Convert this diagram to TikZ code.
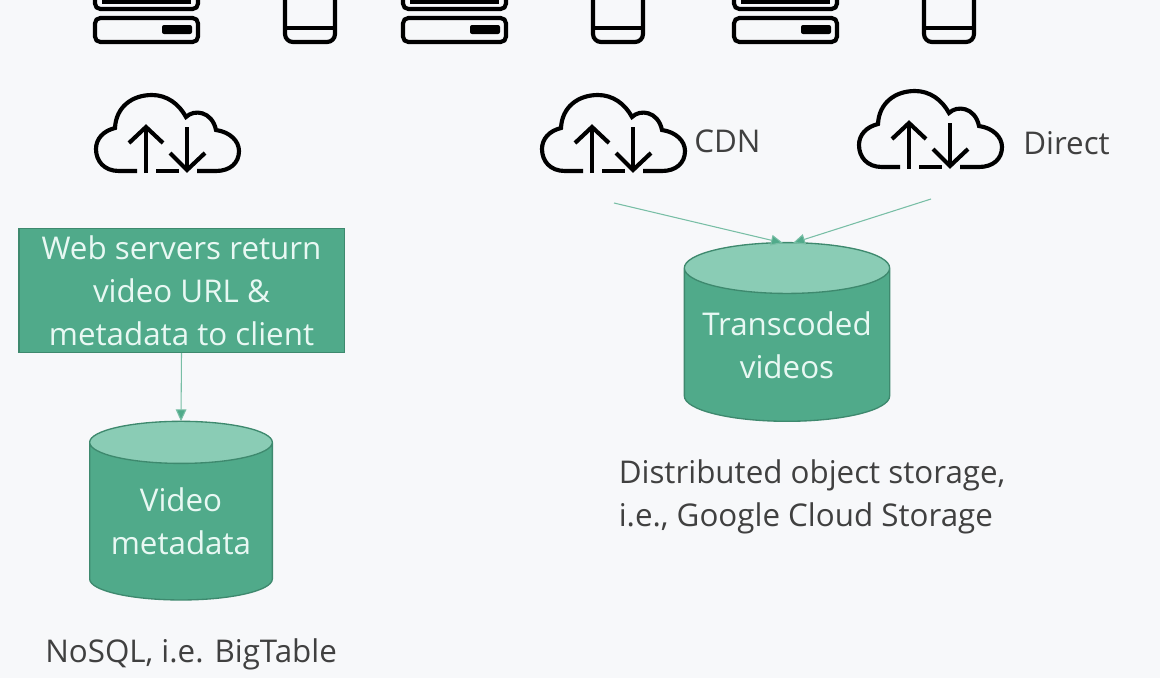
\documentclass[tikz,border=0pt]{standalone}
\usepackage{fontspec}
\setmainfont{Open Sans}
\usetikzlibrary{shapes.geometric,arrows.meta}
\definecolor{pagebg}{RGB}{247,248,250}
\definecolor{boxgreen}{RGB}{80,170,138}
\definecolor{lidgreen}{RGB}{138,204,181}
\definecolor{edgegreen}{RGB}{62,137,110}
\definecolor{linegreen}{RGB}{120,190,165}
\definecolor{mint}{RGB}{232,248,243}
\definecolor{caption}{RGB}{64,64,64}
\tikzset{
  iconline/.style={line width=3.1pt,black},
  mainlabel/.style={inner sep=0pt,text=mint,align=center,font=\fontsize{23.5}{32.25}\selectfont},
  notelabel/.style={inner sep=0pt,text=caption,align=left,font=\fontsize{23.5}{32.25}\selectfont},
  datastore/.style={cylinder,shape border rotate=90,shape aspect=0.3,draw=edgegreen,line width=1pt,
    cylinder uses custom fill,cylinder body fill=boxgreen,cylinder end fill=lidgreen,
    inner sep=0pt,outer sep=0pt,mainlabel},
  feedline/.style={draw=linegreen,line width=0.8pt,-{Triangle[length=9pt,width=8pt,fill=boxgreen]}},
  pics/servericon/.style={code={
    \draw[iconline,rounded corners=4pt] (0,-24) rectangle (103,0);
    \draw[iconline,rounded corners=4pt] (0,-60) rectangle (103,-33);
    \draw[iconline] (7,-40) -- (96,-40);
    \fill[black,rounded corners=1.5pt] (67,-17) rectangle (97,-8);
  }},
  pics/phoneicon/.style={code={
    \draw[iconline,rounded corners=6pt] (0,-60) -- (0,0) -- (50,0) -- (50,-60);
    \draw[iconline] (0,-14) -- (50,-14);
  }},
  pics/cloudicon/.style={code={
    \draw[iconline,line cap=butt] (43,78) -- (25,78) .. controls (10,78) and (2,68) .. (2,56) .. controls (2,46) and (9,38) .. (21,35)
      .. controls (22,14) and (38,2) .. (58,2) .. controls (73,2) and (85,11) .. (92,24)
      .. controls (100,16) and (118,18) .. (122,37) .. controls (136,39) and (145,48) .. (145,58) .. controls (145,70) and (136,78) .. (122,78) -- (103,78);
    \draw[iconline] (62,78) -- (85,78);
    \draw[iconline] (52,80) -- (52,35);
    \draw[iconline] (35,50) -- (52,34) -- (69,50);
    \draw[iconline] (93,34) -- (93,78);
    \draw[iconline] (76,60) -- (93,77) -- (111,60);
  }}
}
\begin{document}
\begin{tikzpicture}[x=0.75pt,y=0.75pt,yscale=-1,xscale=1]
\useasboundingbox (0,0) rectangle (1160,678);
\clip (0,0) rectangle (1160,678);
\fill[pagebg] (0,0) rectangle (1160,678);

% Icons, top row
\pic[yscale=-1] at (95,42) {servericon};
\pic[yscale=-1] at (285,42) {phoneicon};
\pic[yscale=-1] at (403,42) {servericon};
\pic[yscale=-1] at (593,42) {phoneicon};
\pic[yscale=-1] at (734,42) {servericon};
\pic[yscale=-1] at (924,42) {phoneicon};

% Clouds
\pic[yscale=-1] at (94,93) {cloudicon};
\pic[yscale=-1] at (540,93) {cloudicon};
\pic[yscale=-1] at (857,89) {cloudicon};

% Text Node
\node [notelabel,anchor=west] (cdnlabel) at (694,141) {CDN};
% Text Node
\node [notelabel,anchor=west] (directlabel) at (1023,143) {Direct};

% Web server box
\node [draw=edgegreen,fill=boxgreen,line width=1pt,minimum width=244pt,minimum height=93pt,mainlabel] (webbox) at (181.5,290.5) {Web servers return\\video URL \&\\metadata to client};

% Stores
\node [datastore,minimum width=137pt,minimum height=134pt] (metastore) at (181,521.5) {Video\\metadata};
\node [datastore,minimum width=154pt,minimum height=134pt] (videostore) at (787,345) {Transcoded\\videos};

% Text Node
\node [notelabel,anchor=north west] (storenote) at (618.5,459) {Distributed object storage,\\i.e., Google Cloud Storage};
% Text Node
\node [notelabel,anchor=west] (nosqlnote) at (45,654) {NoSQL, i.e. BigTable};

% Connectors
\coordinate (cdnout) at (614,203);
\coordinate (directout) at (931,199);
\coordinate (cdnin) at (783,243);
\coordinate (directin) at (793,243);
\draw [feedline] (webbox.south) -- (metastore.top);
\draw [feedline] (cdnout) -- (cdnin);
\draw [feedline] (directout) -- (directin);
\end{tikzpicture}
\end{document}
